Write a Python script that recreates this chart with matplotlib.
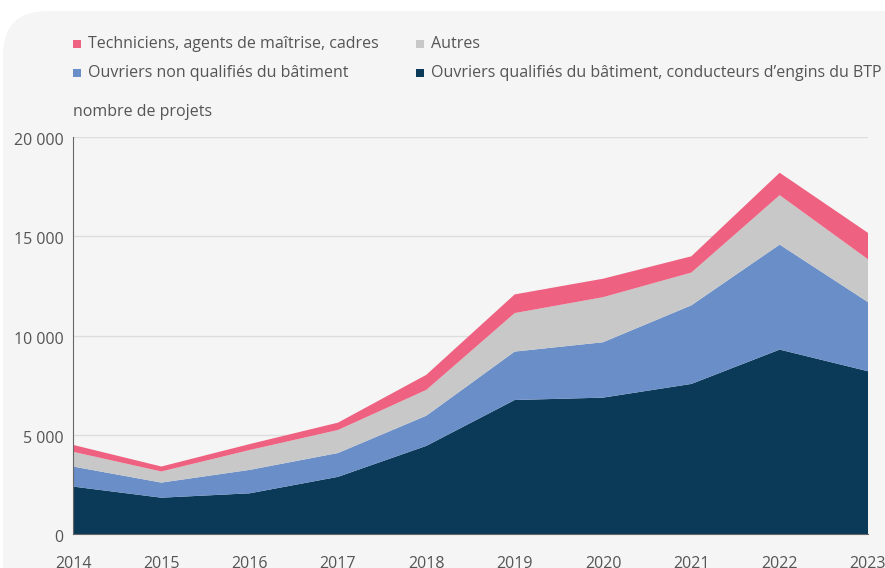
import matplotlib
matplotlib.use("Agg")
import matplotlib.pyplot as plt
from matplotlib.patches import FancyBboxPatch, Rectangle
from matplotlib.ticker import FuncFormatter
from matplotlib.transforms import ScaledTranslation

plt.rcParams['font.family'] = ['Open Sans', 'DejaVu Sans']

years = [2014, 2015, 2016, 2017, 2018, 2019, 2020, 2021, 2022, 2023]
ouvriers_qualifies = [2390, 1830, 2050, 2880, 4440, 6750, 6870, 7560, 9290, 8200]
ouvriers_non_qualifies = [1010, 760, 1180, 1200, 1520, 2440, 2790, 3960, 5290, 3480]
autres = [740, 560, 1000, 1160, 1300, 1940, 2270, 1650, 2490, 2160]
techniciens = [350, 250, 300, 370, 760, 940, 930, 820, 1130, 1330]

labels = ["Ouvriers qualifiés du bâtiment, conducteurs d’engins du BTP",
          "Ouvriers non qualifiés du bâtiment",
          "Autres",
          "Techniciens, agents de maîtrise, cadres"]
colors = ["#0a3a58", "#6a8ec8", "#c8c8c8", "#ee6180"]
series = [ouvriers_qualifies, ouvriers_non_qualifies, autres, techniciens]

W, H = 885, 568
fig = plt.figure(figsize=(W / 100, H / 100), dpi=100)
fig.patch.set_facecolor("white")

card = FancyBboxPatch((3 / W, -0.2), 1.2, (H - 11) / H + 0.2,
                      boxstyle="round,pad=0,rounding_size=0.05",
                      transform=fig.transFigure, facecolor="#f5f5f5",
                      edgecolor="none", zorder=-5, mutation_aspect=W / H)
fig.patches.append(card)

ax = fig.add_axes([73 / W, 34 / H, (868 - 73) / W, (534 - 137) / H])
ax.set_zorder(2)
ax.set_facecolor("none")
ax.stackplot(years, *series, colors=colors, linewidth=0, zorder=2)

ax.set_xlim(2014, 2023)
ax.set_ylim(0, 20000)
ax.set_yticks([0, 5000, 10000, 15000, 20000])
ax.set_xticks(years)
ax.yaxis.set_major_formatter(FuncFormatter(lambda v, p: f"{int(v):,}".replace(",", " ")))
ax.grid(axis="y", color="#dddddd", linewidth=1, zorder=1)
ax.set_axisbelow(True)
for s in ["top", "right"]:
    ax.spines[s].set_visible(False)
ax.spines["left"].set_color("#666666")
ax.spines["bottom"].set_color("#666666")
ax.spines["left"].set_zorder(3)
ax.spines["bottom"].set_zorder(3)
ax.tick_params(axis="y", length=0, pad=7, labelsize=11.5, labelcolor="#555555")
ax.tick_params(axis="x", length=0, pad=16, labelsize=11.5, labelcolor="#555555")

off = ScaledTranslation(0, -2 / 100, fig.dpi_scale_trans)
for lab in ax.get_yticklabels():
    lab.set_transform(lab.get_transform() + off)

# legend
leg_items = [(77, 44, colors[3], labels[3]), (420, 44, colors[2], labels[2]),
             (77, 73, colors[1], labels[1]), (420, 73, colors[0], labels[0])]
for x, y, c, t in leg_items:
    fig.patches.append(Rectangle(((x - 4) / W, 1 - (y + 4) / H), 8 / W, 8 / H,
                                 transform=fig.transFigure, facecolor=c,
                                 edgecolor="none", zorder=3))
    fig.text((x + 11) / W, 1 - y / H, t, fontsize=11.5, color="#555555",
             va="center", ha="left")

fig.text(73 / W, 1 - 112 / H, "nombre de projets", fontsize=11.5,
         color="#555555", va="center", ha="left")

fig.savefig("out.png", dpi=100)
